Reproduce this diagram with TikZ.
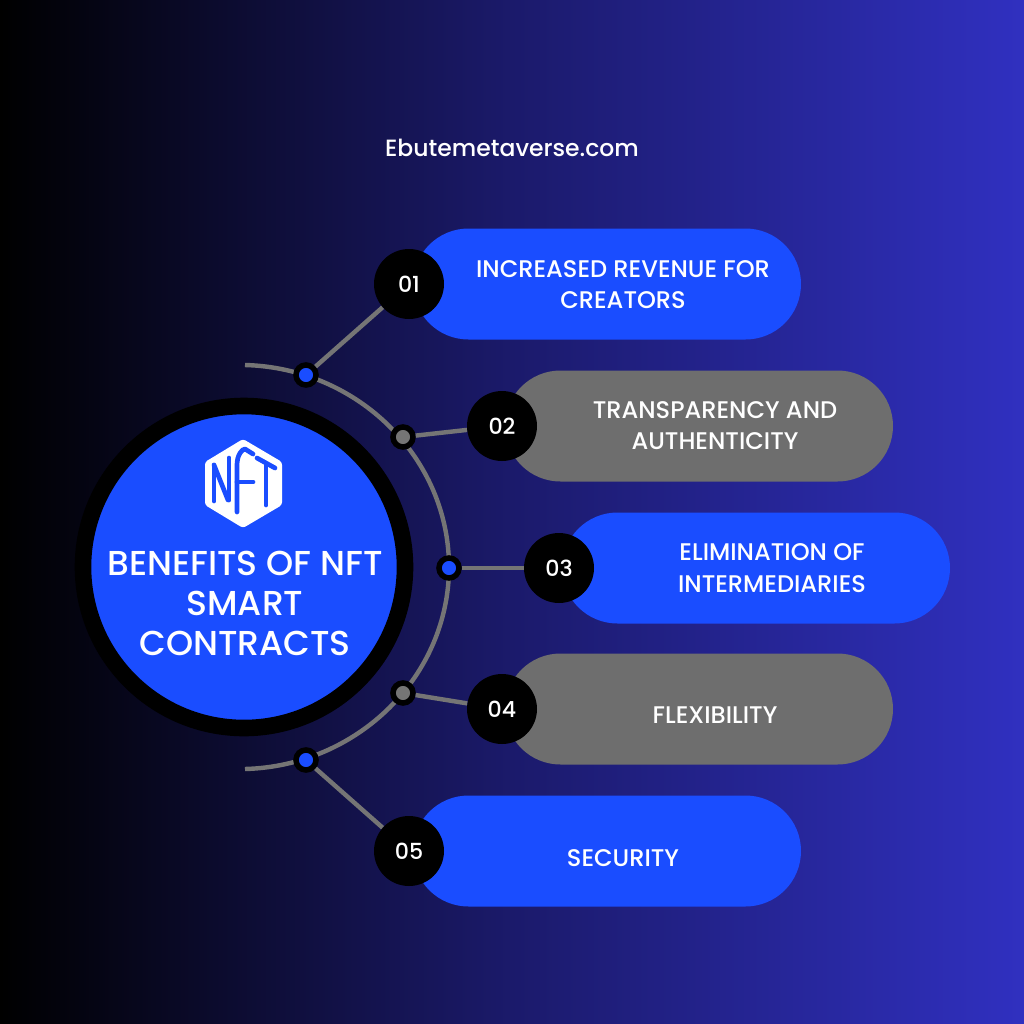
\documentclass[tikz,border=0pt]{standalone}
\usepackage{fontspec}
\setmainfont{Poppins}
\newfontfamily\medfont{Poppins Medium}
\definecolor{blu}{HTML}{1A4DFF}
\definecolor{gra}{HTML}{6E6E6E}
\definecolor{arcg}{HTML}{757575}
\definecolor{bgA}{HTML}{000000}
\definecolor{bgB}{HTML}{1B1A6B}
\definecolor{bgC}{HTML}{3030C0}
\tikzset{
 pill/.style={rounded corners=55.5*0.0254cm,minimum height=111*0.0254cm,minimum width=388*0.0254cm,inner sep=0pt,draw=none},
 num/.style={circle,fill=black,minimum size=70*0.0254cm,inner sep=0pt,text=white,font=\medfont\fontsize{16}{18}\selectfont},
 lbl/.style={text=white,align=center,font=\medfont\fontsize{17.4}{22.8}\selectfont},
 conn/.style={draw=arcg,line width=3.2pt},
 dotb/.style={circle,fill=blu,draw=black,line width=4pt,minimum size=20*0.0254cm,inner sep=0pt},
 dotg/.style={circle,fill=arcg,draw=black,line width=4pt,minimum size=20*0.0254cm,inner sep=0pt},
 logo/.style={draw=blu,line width=3.4pt,line cap=round,line join=round}
}
\begin{document}
\begin{tikzpicture}[x=0.0254cm,y=-0.0254cm]
\useasboundingbox (0,0) rectangle (1024,1024);
\fill[left color=bgA,right color=bgB] (0,0) rectangle (512,1024);
\fill[left color=bgB,right color=bgC] (512,0) rectangle (1024,1024);
\node[text=white,font=\medfont\fontsize{17}{22}\selectfont] (site) at (512,148) {Ebutemetaverse.com};
\coordinate (arcS) at (245,365);
\coordinate (arcE) at (245,769);
\draw[arcg,line width=3.2pt] (arcS) .. controls (358,368) and (449,458) .. (449,567) .. controls (449,676) and (358,766) .. (arcE);
\node[circle,fill=blu,draw=black,line width=12pt,minimum size=322*0.0254cm,inner sep=0pt] (hub) at (244,567) {};
\node[lbl,font=\medfont\fontsize{25}{29}\selectfont] (title) at (245,603.5) {BENEFITS OF NFT\\SMART\\CONTRACTS};
\node[pill,fill=blu] (p1) at (607,284) {};
\node[pill,fill=gra] (p2) at (699,426) {};
\node[pill,fill=blu] (p3) at (756,568) {};
\node[pill,fill=gra] (p4) at (699,709) {};
\node[pill,fill=blu] (p5) at (607,851) {};
\node[num] (n1) at (409,284) {01};
\node[num] (n2) at (502,426) {02};
\node[num] (n3) at (559,568) {03};
\node[num] (n4) at (502,709) {04};
\node[num] (n5) at (409,851) {05};
\node[dotb] (d1) at (306,375) {};
\node[dotg] (d2) at (403,437) {};
\node[dotb] (d3) at (449,568) {};
\node[dotg] (d4) at (403,693) {};
\node[dotb] (d5) at (306,760) {};
\draw[conn] (d1) -- (n1);
\draw[conn] (d2) -- (n2);
\draw[conn] (d3) -- (n3);
\draw[conn] (d4) -- (n4);
\draw[conn] (d5) -- (n5);
\node[lbl] (t1) at (623,284.5) {INCREASED REVENUE FOR\\CREATORS};
\node[lbl] (t2) at (715,425.5) {TRANSPARENCY AND\\AUTHENTICITY};
\node[lbl] (t3) at (772,568) {ELIMINATION OF\\INTERMEDIARIES};
\node[lbl] (t4) at (715,715.5) {FLEXIBILITY};
\node[lbl] (t5) at (623,858.5) {SECURITY};
% NFT logo
\fill[white,rounded corners=2pt] (243,439) -- (282,462) -- (282,505) -- (243,528) -- (205,505) -- (205,462) -- cycle;
\draw[logo] (214,465) -- (214,501);
\draw[logo] (214,465) -- (228,500);
\draw[logo] (229,458) -- (229,500);
\draw[logo] (237,512) -- (237,465) .. controls (237,455) and (242,449) .. (245,449) -- (253,454);
\draw[logo] (237,482) -- (253,482);
\draw[logo] (257,458) -- (275,468);
\draw[logo] (266,464) -- (266,505);
\end{tikzpicture}
\end{document}
